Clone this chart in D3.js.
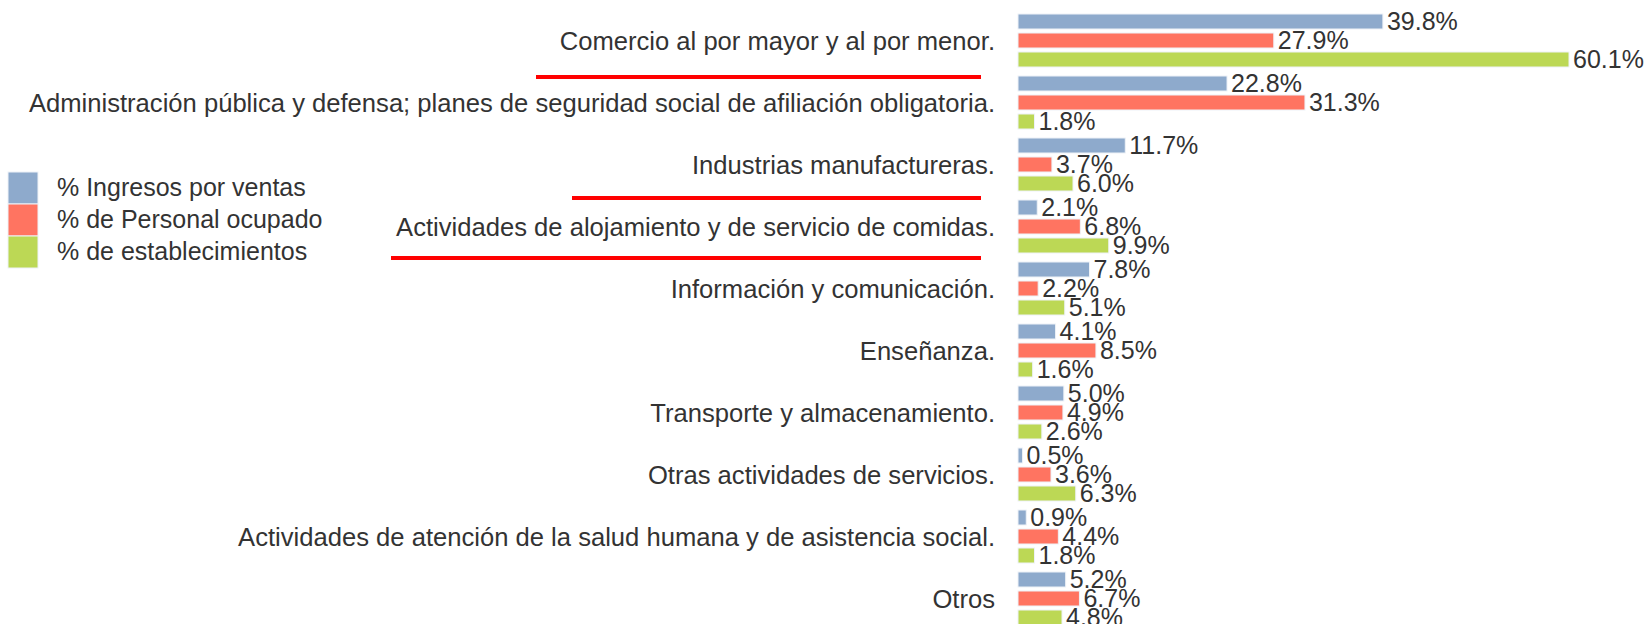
<!DOCTYPE html>
<html>
<head>
<meta charset="utf-8">
<script src="https://cdn.jsdelivr.net/npm/d3@7"></script>
<style>
  body { margin: 0; background: #fff; }
  svg { display: block; font-family: "Liberation Sans", Arial, sans-serif; }
</style>
</head>
<body>
<svg id="chart"></svg>
<script>
const categories = [
  "Comercio al por mayor y al por menor.",
  "Administración pública y defensa; planes de seguridad social de afiliación obligatoria.",
  "Industrias manufactureras.",
  "Actividades de alojamiento y de servicio de comidas.",
  "Información y comunicación.",
  "Enseñanza.",
  "Transporte y almacenamiento.",
  "Otras actividades de servicios.",
  "Actividades de atención de la salud humana y de asistencia social.",
  "Otros"
];
const seriesNames = ["% Ingresos por ventas", "% de Personal ocupado", "% de establecimientos"];
const ingresos = [39.8, 22.8, 11.7, 2.1, 7.8, 4.1, 5.0, 0.5, 0.9, 5.2];
const personal = [27.9, 31.3, 3.7, 6.8, 2.2, 8.5, 4.9, 3.6, 4.4, 6.7];
const establecimientos = [60.1, 1.8, 6.0, 9.9, 5.1, 1.6, 2.6, 6.3, 1.8, 4.8];
const colors = ["#8eaacc", "#ff7461", "#bcd855"];
// categories that get a red underline in the original
const underlined = [
  { category: categories[0], x0: 536, dy: 10 },
  { category: categories[2], x0: 572, dy: 7 },
  { category: categories[3], x0: 391, dy: 5 }
];

const width = 1652, height = 624;
const values = [ingresos, personal, establecimientos];

const svg = d3.select("#chart")
  .attr("width", width)
  .attr("height", height);

const x = d3.scaleLinear()
  .domain([0, d3.max(establecimientos)])
  .range([1018, 1569]);

// group band: step 62, bars 15 high on a 19 px pitch
const y = d3.scaleBand()
  .domain(categories)
  .range([14, 14 + 62 * categories.length - 9])
  .paddingInner(9 / 62)
  .paddingOuter(0);

const ySub = d3.scaleBand()
  .domain(d3.range(3))
  .range([0, y.bandwidth()])
  .paddingInner(4 / 19)
  .paddingOuter(0);

const groups = svg.selectAll(".group")
  .data(categories)
  .join("g")
  .attr("class", "group")
  .attr("transform", d => `translate(0,${y(d)})`);

groups.selectAll("rect")
  .data((d, i) => values.map((s, k) => ({ k, v: s[i] })))
  .join("rect")
  .attr("x", x(0))
  .attr("y", d => ySub(d.k))
  .attr("width", d => x(d.v) - x(0))
  .attr("height", ySub.bandwidth())
  .attr("fill", d => colors[d.k])
  .attr("stroke", "#eef2f7")
  .attr("stroke-width", 1);

groups.selectAll("text.val")
  .data((d, i) => values.map((s, k) => ({ k, v: s[i] })))
  .join("text")
  .attr("class", "val")
  .attr("x", d => x(d.v) + 4)
  .attr("y", d => ySub(d.k) + ySub.bandwidth() + 1)
  .attr("fill", "#333")
  .style("font-size", "25px")
  .text(d => d3.format(".1f")(d.v) + "%");

// category labels
svg.selectAll(".cat")
  .data(categories)
  .join("text")
  .attr("class", "cat")
  .attr("x", 995)
  .attr("y", d => y(d) + y.bandwidth() / 2 + 9)
  .attr("text-anchor", "end")
  .attr("fill", "#333")
  .style("font-size", "25.6px")
  .text(d => d);

// red underlines
svg.selectAll(".underline")
  .data(underlined)
  .join("line")
  .attr("class", "underline")
  .attr("x1", d => d.x0)
  .attr("x2", 981)
  .attr("y1", d => y(d.category) + y.bandwidth() + d.dy)
  .attr("y2", d => y(d.category) + y.bandwidth() + d.dy)
  .attr("stroke", "#ff0000")
  .attr("stroke-width", 4);

// legend
const legend = svg.append("g").attr("transform", "translate(8,172)");
const legendItems = legend.selectAll("g")
  .data(seriesNames)
  .join("g")
  .attr("transform", (d, i) => `translate(0,${i * 32})`);

legendItems.append("rect")
  .attr("width", 30)
  .attr("height", 32)
  .attr("fill", (d, i) => colors[i])
  .attr("stroke", "#eef2f7");

legendItems.append("text")
  .attr("x", 49)
  .attr("y", 24)
  .attr("fill", "#333")
  .style("font-size", "25px")
  .text(d => d);
</script>
</body>
</html>
